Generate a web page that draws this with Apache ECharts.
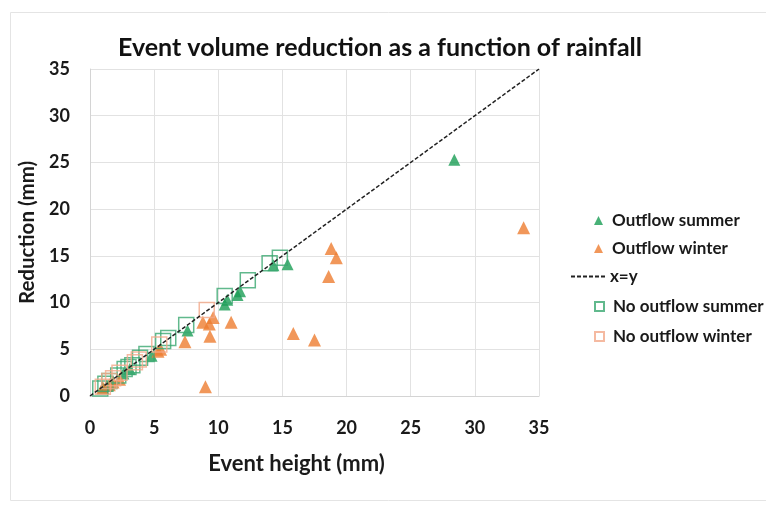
<!DOCTYPE html>
<html>
<head>
<meta charset="utf-8">
<script src="https://cdn.jsdelivr.net/npm/echarts@6/dist/echarts.min.js"></script>
<style>
html,body{margin:0;padding:0;background:#fff;}
#chart{width:766px;height:506px;}
</style>
</head>
<body>
<div id="chart"></div>
<script>
// ---- data ----
const titleText = 'Event volume reduction as a function of rainfall';
const xAxisName = 'Event height (mm)';
const yAxisName = 'Reduction (mm)';
const seriesNames = ['Outflow summer', 'Outflow winter', 'x=y', 'No outflow summer', 'No outflow winter'];

const outflowSummerX = [1.0, 1.3, 2.6, 3.1, 4.8, 7.6, 10.5, 10.7, 11.5, 11.7, 14.3, 15.4, 28.4];
const outflowSummerY = [0.8, 1.1, 2.4, 2.9, 4.3, 7.0, 9.8, 10.3, 10.8, 11.2, 14.0, 14.1, 25.3];

const outflowWinterX = [1.0, 1.5, 1.8, 2.3, 5.3, 5.5, 7.4, 8.8, 9.0, 9.3, 9.35, 9.6, 11.0, 15.85, 17.5, 18.6, 18.8, 19.2, 33.8];
const outflowWinterY = [0.9, 1.2, 1.5, 1.8, 4.8, 5.0, 5.8, 7.9, 1.0, 7.7, 6.4, 8.4, 7.9, 6.7, 6.0, 12.8, 15.8, 14.8, 18.0];

const lineX = [0, 35];
const lineY = [0, 35];

const noOutflowSummerX = [0.8, 1.2, 1.5, 2.2, 2.7, 3.0, 3.3, 3.9, 4.4, 5.7, 6.1, 7.5, 10.5, 12.3, 14.0, 14.8];
const noOutflowSummerY = [0.8, 1.3, 1.6, 2.2, 2.9, 3.1, 3.3, 4.1, 4.5, 5.9, 6.2, 7.6, 10.7, 12.4, 14.2, 14.8];

const noOutflowWinterX = [1.0, 1.5, 1.8, 2.3, 3.5, 3.8, 5.4, 9.1];
const noOutflowWinterY = [1.0, 1.6, 1.9, 2.5, 3.6, 3.9, 5.5, 9.2];

const axisMin = 0, axisMax = 35, axisStep = 5;

// ---- build ----
const zip = (xs, ys) => xs.map((x, i) => [x, ys[i]]);
const FONT = 'Lato, "Open Sans", sans-serif';
const GREEN = '#1a9e55';
const ORANGE = '#ed7d31';
const GREEN_SQ = '#3aa870';
const PINK_SQ = '#f2a98a';

const chart = echarts.init(document.getElementById('chart'), null, {renderer: 'canvas'});

const axisCommon = {
  type: 'value',
  min: axisMin, max: axisMax, interval: axisStep,
  nameLocation: 'middle',
  axisLine: {show: true, lineStyle: {color: '#d4d4d4', width: 1}},
  axisTick: {show: false},
  splitLine: {show: true, lineStyle: {color: '#e2e2e2', width: 1}},
  axisLabel: {fontFamily: FONT, fontWeight: 'bold', fontSize: 18, color: '#1a1a1a'}
};

const legendTextStyle = {fontFamily: FONT, fontWeight: 'bold', fontSize: 17, color: '#1a1a1a'};
const legendCenters = [222, 250, 278, 308, 338];
function makeLegend(i, left, w, h, extra) {
  return Object.assign({
    orient: 'vertical', left: left, top: legendCenters[i] - 10,
    padding: 0,
    itemWidth: w, itemHeight: h, itemGap: 0,
    data: [seriesNames[i]],
    textStyle: Object.assign({}, legendTextStyle, {padding: [0, 0, 0, 4]})
  }, extra || {});
}

chart.setOption({
  backgroundColor: '#fff',
  animation: false,
  title: {
    text: titleText,
    left: 375, top: 30, textAlign: 'center',
    textStyle: {fontFamily: FONT, fontWeight: 'bold', fontSize: 25, color: '#111'}
  },
  graphic: [{
    type: 'rect', left: 8, top: 10,
    shape: {width: 770, height: 488},
    style: {fill: 'none', stroke: '#e4e4e4', lineWidth: 1},
    silent: true, z: -1
  }],
  grid: {left: 90, top: 69, right: 227, bottom: 110, containLabel: false},
  xAxis: Object.assign({}, axisCommon, {
    name: xAxisName, nameGap: 57,
    nameTextStyle: {fontFamily: FONT, fontWeight: 'bold', fontSize: 22, color: '#1a1a1a', padding: [0, 36, 0, 0]},
    axisLabel: Object.assign({}, axisCommon.axisLabel, {margin: 23})
  }),
  yAxis: Object.assign({}, axisCommon, {
    name: yAxisName, nameGap: 48,
    nameTextStyle: {fontFamily: FONT, fontWeight: 'bold', fontSize: 20.5, color: '#1a1a1a'},
    axisLabel: Object.assign({}, axisCommon.axisLabel, {margin: 20})
  }),
  legend: [
    makeLegend(0, 594, 9, 9),
    makeLegend(1, 594, 9, 9),
    makeLegend(2, 570, 34, 9, {data: [{name: seriesNames[2], itemStyle: {color: 'rgba(0,0,0,0)', borderWidth: 0, opacity: 0}}], textStyle: Object.assign({}, legendTextStyle, {padding: [0, 0, 0, 0]})}),
    makeLegend(3, 594, 9, 9),
    makeLegend(4, 594, 9, 9)
  ],
  series: [
    {
      name: seriesNames[0], type: 'scatter', symbol: 'triangle', symbolSize: 12,
      data: zip(outflowSummerX, outflowSummerY),
      itemStyle: {color: GREEN}
    },
    {
      name: seriesNames[1], type: 'scatter', symbol: 'triangle', symbolSize: 13,
      data: zip(outflowWinterX, outflowWinterY),
      itemStyle: {color: ORANGE}
    },
    {
      name: seriesNames[2], type: 'line', symbol: 'none',
      data: zip(lineX, lineY),
      lineStyle: {color: '#222', width: 1.5, type: [4, 2]},
      itemStyle: {color: '#222'}
    },
    {
      name: seriesNames[3], type: 'scatter', symbol: 'rect', symbolSize: 15,
      data: zip(noOutflowSummerX, noOutflowSummerY),
      itemStyle: {color: 'rgba(255,255,255,0)', borderColor: GREEN_SQ, borderWidth: 1.5}
    },
    {
      name: seriesNames[4], type: 'scatter', symbol: 'rect', symbolSize: 15,
      data: zip(noOutflowWinterX, noOutflowWinterY),
      itemStyle: {color: 'rgba(255,255,255,0)', borderColor: PINK_SQ, borderWidth: 1.5}
    }
  ]
});
</script>
</body>
</html>
